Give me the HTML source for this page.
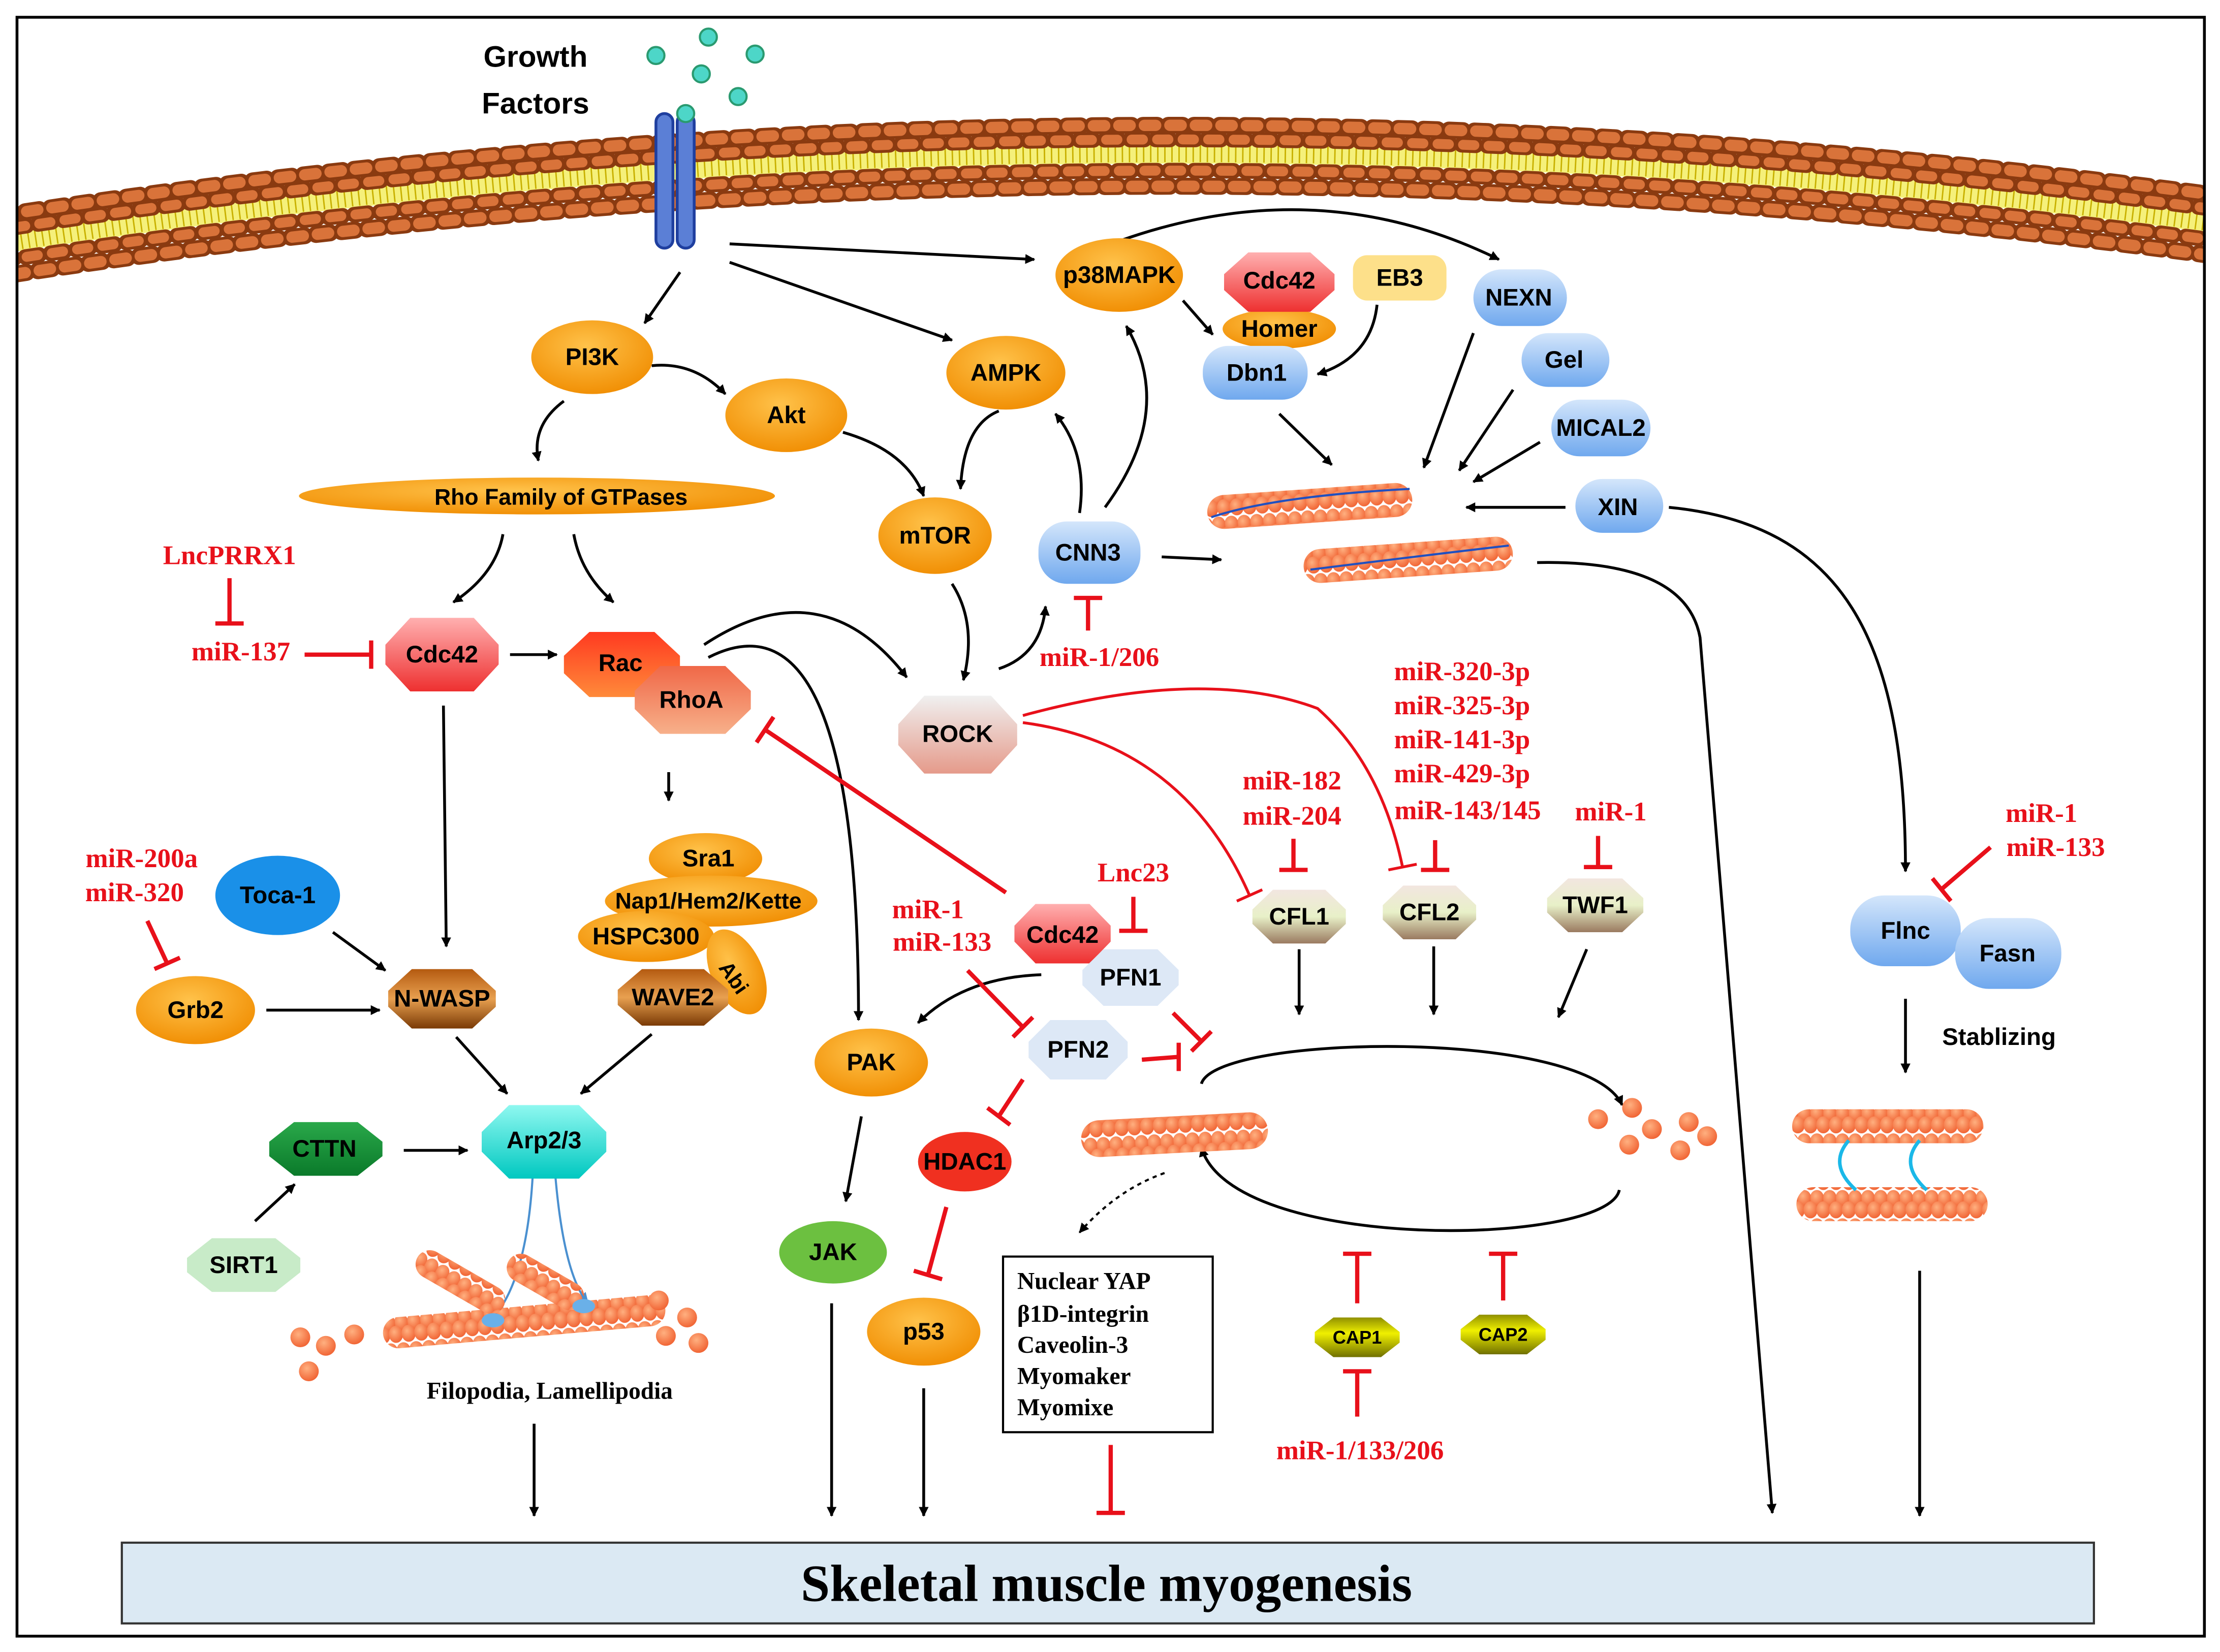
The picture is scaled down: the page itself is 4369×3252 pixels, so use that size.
<!DOCTYPE html>
<html><head><meta charset="utf-8"><style>
html,body{margin:0;padding:0;background:#fff}
svg{display:block}
.n{font-family:"Liberation Sans",sans-serif;font-weight:bold;font-size:17px;fill:#000;text-anchor:middle;dominant-baseline:central}
.r{font-family:"Liberation Serif",serif;font-weight:bold;font-size:19px;fill:#e8101a;text-anchor:middle;dominant-baseline:central}
.k{stroke:#000;stroke-width:2;fill:none;marker-end:url(#ar)}
.i{stroke:#e8101a;stroke-width:3;fill:none}
</style></head><body>
<svg width="4369" height="3252" viewBox="0 0 1567 1166" xmlns="http://www.w3.org/2000/svg">
<defs>
<marker id="ar" viewBox="0 0 10 10" refX="9" refY="5" markerWidth="7" markerHeight="7" orient="auto" markerUnits="userSpaceOnUse"><path d="M0,0L10,5L0,10z" fill="#000"/></marker>
<marker id="ab" viewBox="0 0 10 10" refX="9" refY="5" markerWidth="8" markerHeight="8" orient="auto" markerUnits="userSpaceOnUse"><path d="M0,0L10,5L0,10z" fill="#4a90d0"/></marker>
<symbol id="oct" viewBox="0 0 100 60" preserveAspectRatio="none"><polygon points="22,0 78,0 100,22 100,38 78,60 22,60 0,38 0,22"/></symbol>
<radialGradient id="go" cx="45%" cy="35%" r="70%"><stop offset="0" stop-color="#ffc24a"/><stop offset="1" stop-color="#f08c00"/></radialGradient>
<linearGradient id="gb" x1="0" y1="0" x2="0" y2="1"><stop offset="0" stop-color="#d4e6fb"/><stop offset="1" stop-color="#6fa8ee"/></linearGradient>
<linearGradient id="gr" x1="0" y1="0" x2="0" y2="1"><stop offset="0" stop-color="#ffb0b0"/><stop offset="1" stop-color="#ee3030"/></linearGradient>
<linearGradient id="grr" x1="0" y1="0" x2="0" y2="1"><stop offset="0" stop-color="#ff3a20"/><stop offset="1" stop-color="#ff8a3a"/></linearGradient>
<linearGradient id="gs" x1="0" y1="0" x2="0" y2="1"><stop offset="0" stop-color="#f06848"/><stop offset="1" stop-color="#f7b08a"/></linearGradient>
<linearGradient id="gk" x1="0" y1="0" x2="0" y2="1"><stop offset="0" stop-color="#f0f0f0"/><stop offset="1" stop-color="#e59a8a"/></linearGradient>
<linearGradient id="gbr" x1="0" y1="0" x2="0" y2="1"><stop offset="0" stop-color="#b45a10"/><stop offset="0.5" stop-color="#e8a050"/><stop offset="1" stop-color="#7a3a05"/></linearGradient>
<linearGradient id="gt" x1="0" y1="0" x2="0" y2="1"><stop offset="0" stop-color="#8ff8f0"/><stop offset="1" stop-color="#00c8c0"/></linearGradient>
<linearGradient id="gg" x1="0" y1="0" x2="0" y2="1"><stop offset="0" stop-color="#2aa84a"/><stop offset="1" stop-color="#0a7a2a"/></linearGradient>
<linearGradient id="gc" x1="0" y1="0" x2="0" y2="1"><stop offset="0" stop-color="#f2e6e0"/><stop offset="0.5" stop-color="#e8f0c8"/><stop offset="1" stop-color="#9a7a60"/></linearGradient>
<linearGradient id="gy" x1="0" y1="0" x2="0" y2="1"><stop offset="0" stop-color="#909000"/><stop offset="0.4" stop-color="#f0f000"/><stop offset="1" stop-color="#707000"/></linearGradient>
<radialGradient id="gbead" cx="40%" cy="35%" r="70%"><stop offset="0" stop-color="#ffb080"/><stop offset="1" stop-color="#f06030"/></radialGradient>
<pattern id="fil" width="9" height="20" patternUnits="userSpaceOnUse"><ellipse cx="4.5" cy="6" rx="5" ry="6" fill="url(#gbead)"/><ellipse cx="0" cy="14" rx="5" ry="6" fill="url(#gbead)"/><ellipse cx="9" cy="14" rx="5" ry="6" fill="url(#gbead)"/></pattern>
<clipPath id="cl"><rect x="12" y="12" width="1544" height="1143"/></clipPath>
</defs>
<rect width="1567" height="1166" fill="#fff"/>
<g clip-path="url(#cl)" fill="none">
<path d="M0,172 Q780,52 1567,158" stroke="#f5f07a" stroke-width="14"/>
<path d="M0,172 Q780,52 1567,158" stroke="#c8b000" stroke-width="12" stroke-dasharray="1 4"/>
<path d="M0,152 Q780,32 1567,138" stroke="#8a3a10" stroke-width="12" stroke-dasharray="10 8" stroke-linecap="round"/>
<path d="M0,152 Q780,32 1567,138" stroke="#d9733a" stroke-width="8" stroke-dasharray="8 10" stroke-linecap="round" stroke-dashoffset="-1"/>
<path d="M0,162 Q780,42 1567,148" stroke="#8a3a10" stroke-width="11" stroke-dasharray="10 8" stroke-linecap="round" stroke-dashoffset="9"/>
<path d="M0,162 Q780,42 1567,148" stroke="#d9733a" stroke-width="7" stroke-dasharray="8 10" stroke-linecap="round" stroke-dashoffset="8"/>
<path d="M0,184 Q780,64 1567,170" stroke="#8a3a10" stroke-width="11" stroke-dasharray="10 8" stroke-linecap="round"/>
<path d="M0,184 Q780,64 1567,170" stroke="#d9733a" stroke-width="7" stroke-dasharray="8 10" stroke-linecap="round" stroke-dashoffset="-1"/>
<path d="M0,195 Q780,75 1567,181" stroke="#8a3a10" stroke-width="12" stroke-dasharray="10 8" stroke-linecap="round" stroke-dashoffset="9"/>
<path d="M0,195 Q780,75 1567,181" stroke="#d9733a" stroke-width="8" stroke-dasharray="8 10" stroke-linecap="round" stroke-dashoffset="8"/>
</g>
<rect x="12" y="12" width="1544" height="1143" fill="none" stroke="#000" stroke-width="2"/>
<rect x="463" y="80" width="12" height="95" rx="6" fill="#5b7fd6" stroke="#1f3f9f" stroke-width="2"/>
<rect x="478" y="80" width="12" height="95" rx="6" fill="#5b7fd6" stroke="#1f3f9f" stroke-width="2"/>
<g fill="#4dd6c8" stroke="#2a9a70" stroke-width="1.5"><circle cx="463" cy="39" r="6"/><circle cx="500" cy="26" r="6"/><circle cx="533" cy="38" r="6"/><circle cx="495" cy="52" r="6"/><circle cx="521" cy="68" r="6"/><circle cx="484" cy="80" r="6"/></g>
<text class="n" x="378" y="40" style="font-size:21px">Growth</text>
<text class="n" x="378" y="73" style="font-size:21px">Factors</text>
<g class="k">
<path d="M515,172 L730,183"/>
<path d="M515,185 L672,240"/>
<path d="M480,192 L455,228"/>
<path d="M460,258 Q490,255 512,278"/>
<path d="M398,283 Q375,300 380,325"/>
<path d="M595,305 Q640,318 652,350"/>
<path d="M705,290 Q680,300 678,345"/>
<path d="M672,412 Q690,440 680,480"/>
<path d="M705,472 Q735,462 738,428"/>
<path d="M762,362 Q768,320 745,292"/>
<path d="M780,358 Q830,290 795,230"/>
<path d="M790,170 Q930,120 1058,183"/>
<path d="M835,212 L856,236"/>
<path d="M972,215 Q968,252 930,264"/>
<path d="M903,292 L940,328"/>
<path d="M1040,235 L1005,330"/>
<path d="M1068,275 L1030,332"/>
<path d="M1087,312 L1040,340"/>
<path d="M1105,358 L1035,358"/>
<path d="M820,393 L862,395"/>
<path d="M1178,358 C1300,370 1345,450 1345,615"/>
<path d="M1085,397 Q1190,395 1200,450 L1251,1068"/>
<path d="M355,377 Q350,405 320,425"/>
<path d="M405,377 Q410,405 433,425"/>
<path d="M360,462 L393,462"/>
<path d="M497,455 Q580,400 640,478"/>
<path d="M500,464 Q606,410 606,720"/>
<path d="M472,545 L472,565"/>
<path d="M313,498 L315,668"/>
<path d="M235,658 L272,685"/>
<path d="M188,713 L268,713"/>
<path d="M322,732 L358,772"/>
<path d="M460,730 L410,772"/>
<path d="M285,812 L330,812"/>
<path d="M180,862 L208,836"/>
<path d="M735,688 Q680,690 648,722"/>
<path d="M608,788 L597,848"/>
<path d="M917,670 L917,716"/>
<path d="M1012,668 L1012,716"/>
<path d="M1120,670 L1100,718"/>
<path d="M1345,705 L1345,757"/>
<path d="M848,765 C858,730 1120,725 1145,780"/>
<path d="M1143,840 C1135,880 870,885 848,810"/>
<path d="M652,980 L652,1070"/>
<path d="M587,920 L587,1070"/>
<path d="M377,1005 L377,1070"/>
<path d="M1355,897 L1355,1070"/>
<path d="M822,828 Q788,840 762,870" stroke-dasharray="3 3" stroke-width="1.5"/>
</g>
<g stroke="#4a90d0" stroke-width="1.5" fill="none"><path d="M376,830 Q372,900 350,928" marker-end="url(#ab)"/><path d="M392,830 Q398,900 415,920" marker-end="url(#ab)"/></g>
<g class="i">
<path d="M162,408 L162,440 M152,440 L172,440"/>
<path d="M215,462 L262,462 M262,452 L262,472"/>
<path d="M104,650 L118,680 M109,684 L127,676"/>
<path d="M710,630 L540,515 M534,524 L546,506"/>
<path d="M800,633 L800,657 M790,657 L810,657"/>
<path d="M683,685 L722,725 M715,732 L729,718"/>
<path d="M828,715 L848,735 M841,742 L855,728"/>
<path d="M806,748 L832,746 M832,736 L832,756"/>
<path d="M722,762 L705,788 M697,782 L713,794"/>
<path d="M668,852 L655,900 M645,897 L665,903"/>
<path d="M722,510 Q835,525 882,632 M873,636 L891,628" stroke-width="2"/>
<path d="M722,505 Q850,470 930,500 Q975,540 990,612 M980,614 L1000,610" stroke-width="2"/>
<path d="M913,592 L913,614 M903,614 L923,614"/>
<path d="M1013,593 L1013,614 M1003,614 L1023,614"/>
<path d="M1128,590 L1128,612 M1118,612 L1138,612"/>
<path d="M1405,598 L1370,628 M1364,620 L1377,636"/>
<path d="M958,920 L958,885 M948,885 L968,885"/>
<path d="M1061,918 L1061,885 M1051,885 L1071,885"/>
<path d="M958,1000 L958,968 M948,968 L968,968"/>
<path d="M768,445 L768,422 M758,422 L778,422"/>
<path d="M784,1020 L784,1068 M774,1068 L794,1068"/>
</g>
<g>
<rect x="852" y="345" width="145" height="24" rx="12" fill="url(#fil)" transform="rotate(-4 925 357)"/>
<rect x="920" y="383" width="148" height="24" rx="12" fill="url(#fil)" transform="rotate(-4 995 395)"/>
<path d="M855,365 Q900,350 995,345" stroke="#2050c0" stroke-width="1.5" fill="none"/>
<path d="M925,402 Q980,395 1065,385" stroke="#2050c0" stroke-width="1.5" fill="none"/>
<rect x="763" y="788" width="132" height="26" rx="13" fill="url(#fil)" transform="rotate(-3 828 800)"/>
<g fill="url(#gbead)"><circle cx="1128" cy="790" r="7"/><circle cx="1152" cy="782" r="7"/><circle cx="1166" cy="797" r="7"/><circle cx="1150" cy="808" r="7"/><circle cx="1192" cy="792" r="7"/><circle cx="1205" cy="802" r="7"/><circle cx="1186" cy="812" r="7"/></g>
<rect x="1265" y="783" width="135" height="24" rx="12" fill="url(#fil)"/>
<rect x="1268" y="838" width="135" height="24" rx="12" fill="url(#fil)"/>
<path d="M1305,805 Q1290,822 1310,840 M1355,805 Q1340,822 1360,840" stroke="#1ab8e8" stroke-width="2.5" fill="none"/>
<rect x="270" y="922" width="200" height="22" rx="11" fill="url(#fil)" transform="rotate(-5 370 933)"/>
<rect x="290" y="895" width="70" height="20" rx="10" fill="url(#fil)" transform="rotate(30 325 905)"/>
<rect x="355" y="895" width="60" height="20" rx="10" fill="url(#fil)" transform="rotate(30 385 905)"/>
<g fill="url(#gbead)"><circle cx="212" cy="944" r="7"/><circle cx="230" cy="950" r="7"/><circle cx="218" cy="968" r="7"/><circle cx="250" cy="942" r="7"/><circle cx="465" cy="918" r="7"/><circle cx="485" cy="930" r="7"/><circle cx="470" cy="943" r="7"/><circle cx="493" cy="948" r="7"/></g>
<ellipse cx="348" cy="932" rx="8" ry="5" fill="#6ab0e8"/><ellipse cx="412" cy="922" rx="8" ry="5" fill="#6ab0e8"/>
</g>
<g fill="url(#go)">
<ellipse cx="418" cy="252" rx="43" ry="26"/><ellipse cx="555" cy="293" rx="43" ry="26"/><ellipse cx="710" cy="263" rx="42" ry="26"/>
<ellipse cx="660" cy="378" rx="40" ry="27"/><ellipse cx="790" cy="194" rx="45" ry="26"/>
<ellipse cx="379" cy="350" rx="168" ry="13"/>
<ellipse cx="138" cy="713" rx="42" ry="24"/><ellipse cx="615" cy="750" rx="40" ry="24"/><ellipse cx="652" cy="940" rx="40" ry="24"/>
<ellipse cx="498" cy="606" rx="40" ry="18"/><ellipse cx="502" cy="636" rx="75" ry="18"/><ellipse cx="456" cy="661" rx="48" ry="18"/>
<ellipse cx="520" cy="686" rx="18" ry="32" transform="rotate(-25 520 686)"/>
<ellipse cx="903" cy="232" rx="40" ry="14"/>
</g>
<g fill="url(#gb)">
<rect x="733" y="368" width="72" height="44" rx="20"/>
<rect x="849" y="244" width="74" height="38" rx="18"/>
<rect x="1040" y="190" width="66" height="40" rx="20"/>
<rect x="1074" y="235" width="62" height="38" rx="19"/>
<rect x="1095" y="282" width="70" height="40" rx="20"/>
<rect x="1112" y="338" width="62" height="38" rx="19"/>
<rect x="1306" y="632" width="78" height="50" rx="24"/>
<rect x="1380" y="648" width="75" height="50" rx="24"/>
</g>
<ellipse cx="196" cy="632" rx="44" ry="28" fill="#1a90e8"/>
<rect x="955" y="180" width="66" height="32" rx="10" fill="#fde08a"/>
<use href="#oct" x="272" y="436" width="80" height="52" fill="url(#gr)"/>
<use href="#oct" x="398" y="446" width="82" height="46" fill="url(#grr)"/>
<use href="#oct" x="448" y="470" width="82" height="48" fill="url(#gs)"/>
<use href="#oct" x="634" y="491" width="84" height="55" fill="url(#gk)"/>
<use href="#oct" x="864" y="178" width="78" height="42" fill="url(#gr)"/>
<use href="#oct" x="716" y="638" width="68" height="42" fill="url(#gr)"/>
<use href="#oct" x="764" y="670" width="68" height="40" fill="#dde8f6"/>
<use href="#oct" x="726" y="720" width="70" height="42" fill="#dde8f6"/>
<use href="#oct" x="274" y="684" width="76" height="42" fill="url(#gbr)"/>
<use href="#oct" x="436" y="684" width="78" height="40" fill="url(#gbr)"/>
<use href="#oct" x="340" y="780" width="88" height="52" fill="url(#gt)"/>
<use href="#oct" x="190" y="792" width="80" height="38" fill="url(#gg)"/>
<use href="#oct" x="132" y="874" width="80" height="38" fill="#c8ebc8"/>
<use href="#oct" x="884" y="628" width="66" height="38" fill="url(#gc)"/>
<use href="#oct" x="976" y="625" width="66" height="38" fill="url(#gc)"/>
<use href="#oct" x="1092" y="620" width="68" height="38" fill="url(#gc)"/>
<use href="#oct" x="928" y="930" width="60" height="28" fill="url(#gy)"/>
<use href="#oct" x="1031" y="928" width="60" height="28" fill="url(#gy)"/>
<ellipse cx="681" cy="820" rx="33" ry="21" fill="#f03020"/>
<ellipse cx="588" cy="884" rx="38" ry="22" fill="#6cc040"/>
<g class="n">
<text x="418" y="252">PI3K</text><text x="555" y="293">Akt</text><text x="710" y="263">AMPK</text><text x="660" y="378">mTOR</text>
<text x="790" y="194">p38MAPK</text><text x="396" y="351" style="font-size:16px">Rho Family of GTPases</text>
<text x="312" y="462">Cdc42</text><text x="438" y="468">Rac</text><text x="488" y="494">RhoA</text><text x="676" y="518">ROCK</text>
<text x="768" y="390">CNN3</text><text x="903" y="198">Cdc42</text><text x="903" y="232">Homer</text><text x="887" y="263">Dbn1</text>
<text x="988" y="196">EB3</text><text x="1072" y="210">NEXN</text><text x="1104" y="254">Gel</text><text x="1130" y="302">MICAL2</text><text x="1142" y="358">XIN</text>
<text x="500" y="606">Sra1</text><text x="500" y="636" style="font-size:16px">Nap1/Hem2/Kette</text><text x="456" y="661">HSPC300</text>
<text x="518" y="690" transform="rotate(55 518 690)" style="font-size:15px">Abi</text>
<text x="475" y="704">WAVE2</text><text x="196" y="632">Toca-1</text><text x="138" y="713">Grb2</text><text x="312" y="705">N-WASP</text>
<text x="384" y="805">Arp2/3</text><text x="229" y="811">CTTN</text><text x="172" y="893">SIRT1</text>
<text x="750" y="660">Cdc42</text><text x="798" y="690">PFN1</text><text x="761" y="741">PFN2</text><text x="615" y="750">PAK</text>
<text x="681" y="820">HDAC1</text><text x="588" y="884">JAK</text><text x="652" y="940">p53</text>
<text x="917" y="647">CFL1</text><text x="1009" y="644">CFL2</text><text x="1126" y="639">TWF1</text>
<text x="958" y="944" style="font-size:13px">CAP1</text><text x="1061" y="942" style="font-size:13px">CAP2</text>
<text x="1345" y="657">Flnc</text><text x="1417" y="673">Fasn</text><text x="1411" y="732">Stablizing</text>
</g>
<text x="388" y="982" class="n" style="font-family:'Liberation Serif',serif;font-size:17px">Filopodia, Lamellipodia</text>
<g class="r">
<text x="162" y="392">LncPRRX1</text><text x="170" y="460">miR-137</text>
<text x="100" y="606">miR-200a</text><text x="95" y="630">miR-320</text>
<text x="776" y="464">miR-1/206</text>
<text x="1032" y="474">miR-320-3p</text><text x="1032" y="498">miR-325-3p</text><text x="1032" y="522">miR-141-3p</text><text x="1032" y="546">miR-429-3p</text><text x="1036" y="572">miR-143/145</text>
<text x="912" y="551">miR-182</text><text x="912" y="576">miR-204</text>
<text x="1137" y="573">miR-1</text><text x="800" y="616">Lnc23</text>
<text x="655" y="642">miR-1</text><text x="665" y="665">miR-133</text>
<text x="1441" y="574">miR-1</text><text x="1451" y="598">miR-133</text>
<text x="960" y="1024">miR-1/133/206</text>
</g>
<rect x="708" y="887" width="148" height="124" fill="#fff" stroke="#000" stroke-width="1.5"/>
<g font-family="'Liberation Serif',serif" font-weight="bold" font-size="17" fill="#000">
<text x="718" y="910">Nuclear YAP</text><text x="718" y="933">β1D-integrin</text><text x="718" y="955">Caveolin-3</text><text x="718" y="977">Myomaker</text><text x="718" y="999">Myomixe</text>
</g>
<rect x="86" y="1089" width="1392" height="57" fill="#dbe9f3" stroke="#333" stroke-width="1.5"/>
<text x="781" y="1118" text-anchor="middle" dominant-baseline="central" font-family="'Liberation Serif',serif" font-weight="bold" font-size="37">Skeletal muscle myogenesis</text>
</svg>
</body></html>
